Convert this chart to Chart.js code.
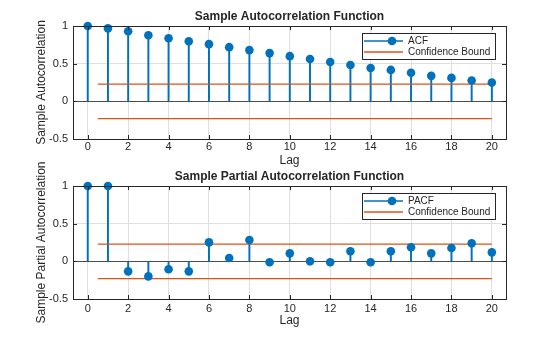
<!DOCTYPE html>
<html>
<head>
<meta charset="utf-8">
<script src="https://cdn.jsdelivr.net/npm/chart.js@4.4.1/dist/chart.umd.min.js"></script>
<style>
  html, body { margin: 0; padding: 0; background: #fff; }
  #wrap { position: relative; width: 560px; height: 337px; }
  canvas { position: absolute; left: 0; }
</style>
</head>
<body>
<div id="wrap">
  <canvas id="acfChart" width="560" height="168" style="top:0"></canvas>
  <canvas id="pacfChart" width="560" height="187" style="top:150px"></canvas>
</div>
<script>
const lags = [0, 1, 2, 3, 4, 5, 6, 7, 8, 9, 10, 11, 12, 13, 14, 15, 16, 17, 18, 19, 20];
const acfValues = [1.0, 0.969, 0.93, 0.877, 0.838, 0.798, 0.759, 0.719, 0.68, 0.64, 0.60,
                   0.561, 0.522, 0.482, 0.443, 0.417, 0.38, 0.338, 0.311, 0.276, 0.25];
const pacfValues = [1.0, 1.0, -0.133, -0.2, -0.106, -0.133, 0.252, 0.044, 0.283, -0.013, 0.106,
                    0.0, -0.013, 0.133, -0.013, 0.133, 0.186, 0.106, 0.177, 0.239, 0.119];
const boundLags = [0.5, 20];
const upperBound = 0.229;
const lowerBound = -0.229;
const xTicks = [0, 2, 4, 6, 8, 10, 12, 14, 16, 18, 20];
const yTicks = [-0.5, 0, 0.5, 1];

const BLUE = '#0072BD';
const ORANGE = '#D95319';
const AXIS = '#262626';
const GRID = '#dfdfdf';

Chart.defaults.font.family = "'Liberation Sans', Arial, sans-serif";
Chart.defaults.font.size = 11;
Chart.defaults.color = AXIS;

// axes box, inward tick marks, title over the plot area, legend inside
const matlabAxes = {
    id: 'matlabAxes',
    afterDraw(chart, args, opts) {
        const ctx = chart.ctx;
        const a = chart.chartArea;
        const sx = chart.scales.x, sy = chart.scales.y;
        ctx.save();
        ctx.strokeStyle = AXIS;
        ctx.lineWidth = 1;
        ctx.beginPath();
        xTicks.forEach(t => {
            const px = Math.round(sx.getPixelForValue(t)) + 0.5;
            ctx.moveTo(px, a.bottom); ctx.lineTo(px, a.bottom - 4);
            ctx.moveTo(px, a.top); ctx.lineTo(px, a.top + 4);
        });
        yTicks.forEach(t => {
            const py = Math.round(sy.getPixelForValue(t)) + 0.5;
            ctx.moveTo(a.left, py); ctx.lineTo(a.left + 4, py);
            ctx.moveTo(a.right, py); ctx.lineTo(a.right - 4, py);
        });
        ctx.stroke();
        ctx.strokeRect(Math.round(a.left) + 0.5, Math.round(a.top) + 0.5,
                       Math.round(a.right - a.left), Math.round(a.bottom - a.top));

        // title
        ctx.fillStyle = AXIS;
        ctx.font = "bold 12px 'Liberation Sans', Arial, sans-serif";
        ctx.textAlign = 'center';
        ctx.textBaseline = 'middle';
        ctx.fillText(opts.title, (a.left + a.right) / 2, a.top - 9.5);

        // legend
        const bx = a.right - 144, by = a.top + 7, bw = 133, bh = 26;
        ctx.fillStyle = '#fff';
        ctx.fillRect(bx, by, bw, bh);
        ctx.strokeStyle = AXIS;
        ctx.strokeRect(bx + 0.5, by + 0.5, bw, bh);
        const rows = [
            {text: opts.series, color: BLUE, marker: true, y: by + 8},
            {text: 'Confidence Bound', color: ORANGE, marker: false, y: by + 19}
        ];
        ctx.font = "10px 'Liberation Sans', Arial, sans-serif";
        ctx.textAlign = 'left';
        rows.forEach(r => {
            ctx.strokeStyle = r.color;
            ctx.lineWidth = 1.3;
            ctx.beginPath();
            ctx.moveTo(bx + 2, r.y); ctx.lineTo(bx + 41, r.y);
            ctx.stroke();
            if (r.marker) {
                ctx.fillStyle = r.color;
                ctx.beginPath();
                ctx.arc(bx + 30, r.y, 4.3, 0, Math.PI * 2);
                ctx.fill();
            }
            ctx.fillStyle = AXIS;
            ctx.fillText(r.text, bx + 46, r.y + 0.5);
        });
        ctx.restore();
    }
};

function makeChart(id, values, series, title, yLabel, pad, tickPad) {
    const stems = lags.map((l, i) => ({x: l, y: values[i]}));
    return new Chart(document.getElementById(id), {
        type: 'bar',
        data: {
            datasets: [
                {
                    type: 'scatter',
                    label: series,
                    data: stems,
                    pointRadius: 4.3,
                    pointBackgroundColor: BLUE,
                    pointBorderWidth: 0,
                    clip: false,
                    order: 0
                },
                {
                    type: 'line',
                    label: 'Confidence Bound',
                    data: boundLags.map(l => ({x: l, y: upperBound})),
                    borderColor: ORANGE,
                    borderWidth: 1.3,
                    pointRadius: 0,
                    order: 1
                },
                {
                    type: 'line',
                    data: boundLags.map(l => ({x: l, y: lowerBound})),
                    borderColor: ORANGE,
                    borderWidth: 1.3,
                    pointRadius: 0,
                    order: 1
                },
                {
                    type: 'bar',
                    data: stems,
                    backgroundColor: BLUE,
                    barThickness: 1.3,
                    order: 2
                }
            ]
        },
        options: {
            responsive: false,
            animation: false,
            layout: {padding: pad},
            plugins: {
                legend: {display: false},
                tooltip: {enabled: false},
                matlabAxes: {title: title, series: series}
            },
            scales: {
                x: {
                    type: 'linear',
                    min: -0.73,
                    max: 20.7,
                    offset: false,
                    afterFit: s => { s.height = 29; },
                    afterBuildTicks: s => { s.ticks = xTicks.map(v => ({value: v})); },
                    ticks: {padding: tickPad, maxRotation: 0},
                    grid: {color: GRID, drawTicks: false, offset: false},
                    border: {display: false},
                    title: {display: true, text: 'Lag', font: {size: 12}, padding: {top: 0, bottom: 0}}
                },
                y: {
                    min: -0.5,
                    max: 1,
                    afterFit: s => { s.width = 73; },
                    afterBuildTicks: s => { s.ticks = yTicks.map(v => ({value: v})); },
                    ticks: {padding: 5, callback: v => String(+v.toFixed(2))},
                    grid: {
                        color: c => (c.tick && c.tick.value === 0) ? '#4d4d4d' : GRID,
                        drawTicks: false
                    },
                    border: {display: false},
                    title: {display: true, text: yLabel, font: {size: 12}, padding: {top: 34, bottom: 0}}
                }
            }
        },
        plugins: [matlabAxes]
    });
}

makeChart('acfChart', acfValues, 'ACF', 'Sample Autocorrelation Function',
          'Sample Autocorrelation', {top: 26, right: 54, bottom: 0, left: 0}, 1.5);
makeChart('pacfChart', pacfValues, 'PACF', 'Sample Partial Autocorrelation Function',
          'Sample Partial Autocorrelation', {top: 36, right: 54, bottom: 9, left: 0}, 3.5);
</script>
</body>
</html>
